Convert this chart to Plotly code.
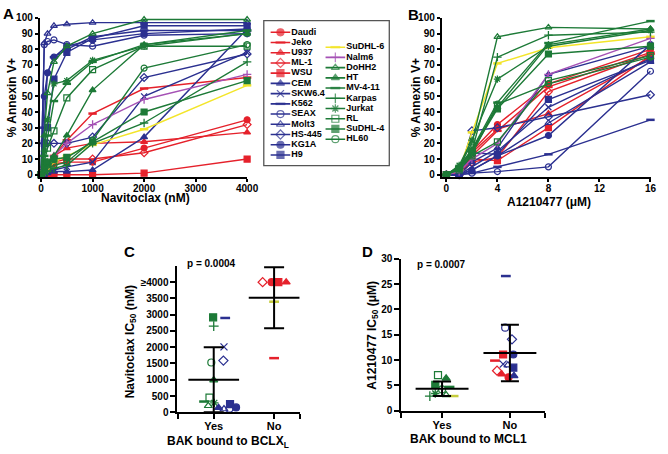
import plotly.graph_objects as go

# ---------------- data ----------------
cell_lines = ["Daudi", "Jeko", "U937", "ML-1", "WSU",
              "CEM", "SKW6.4", "K562", "SEAX", "Molt3", "HS-445", "KG1A", "H9",
              "SuDHL-6", "Nalm6", "DoHH2", "HT", "MV-4-11", "Karpas", "Jurkat",
              "RL", "SuDHL-4", "HL60"]

navitoclax_nM = [0, 62.5, 125, 250, 500, 1000, 2000, 4000]
annexin_navitoclax = {
    "Daudi":   [0, 2, 5, 7, 8, 8, 17, 35],
    "Jeko":    [0, 4, 8, 12, 22, 39, 55, 62],
    "U937":    [0, 6, 8, 12, 17, 20, 21, 27],
    "ML-1":    [0, 2, 4, 8, 10, 10, 14, 32],
    "WSU":     [0, 0, 0, 0, 0, 0, 1, 10],
    "CEM":     [0, 0, 1, 2, 2, 3, 24, 93],
    "SKW6.4":  [0, 1, 2, 3, 5, 8, 50, 78],
    "K562":    [0, 30, 65, 75, 80, 88, 92, 92],
    "SEAX":    [0, 83, 85, 86, 83, 82, 89, 90],
    "Molt3":   [0, 84, 90, 95, 96, 97, 97, 97],
    "HS-445":  [0, 20, 20, 20, 20, 24, 62, 77],
    "KG1A":    [0, 50, 65, 75, 82, 86, 90, 93],
    "H9":      [0, 20, 30, 61, 78, 87, 95, 95],
    "SuDHL-6": [0, 2, 4, 8, 12, 19, 29, 57],
    "Nalm6":   [0, 4, 7, 12, 20, 32, 48, 64],
    "DoHH2":   [0, 25, 52, 72, 82, 90, 99, 99],
    "HT":      [0, 3, 6, 12, 25, 54, 83, 90],
    "MV-4-11": [0, 12, 25, 47, 58, 72, 83, 92],
    "Karpas":  [0, 1, 2, 4, 6, 20, 33, 72],
    "Jurkat":  [0, 15, 35, 58, 60, 73, 82, 90],
    "RL":      [0, 8, 17, 28, 49, 67, 82, 82],
    "SuDHL-4": [0, 4, 8, 10, 11, 21, 40, 60],
    "HL60":    [0, 2, 4, 6, 8, 22, 68, 83],
}

a1210477_uM = [0, 1, 2, 4, 8, 16]
annexin_a1210477 = {
    "Daudi":   [0, 0, 15, 32, 58, 80],
    "Jeko":    [0, 1, 12, 28, 56, 78],
    "U937":    [0, 0, 14, 29, 39, 75],
    "ML-1":    [0, 0, 8, 11, 53, 77],
    "WSU":     [0, 0, 10, 9, 30, 76],
    "CEM":     [0, 0, 8, 17, 64, 82],
    "SKW6.4":  [0, 0, 5, 15, 43, 74],
    "K562":    [0, 0, 1, 5, 13, 35],
    "SEAX":    [0, 0, 1, 2, 5, 66],
    "Molt3":   [0, 0, 3, 12, 33, 72],
    "HS-445":  [0, 0, 28, 30, 37, 51],
    "KG1A":    [0, 0, 3, 12, 25, 83],
    "H9":      [0, 0, 14, 13, 48, 73],
    "SuDHL-6": [0, 3, 27, 71, 81, 88],
    "Nalm6":   [0, 2, 10, 20, 64, 87],
    "DoHH2":   [0, 5, 20, 88, 94, 93],
    "HT":      [0, 5, 16, 43, 83, 93],
    "MV-4-11": [0, 5, 16, 46, 84, 98],
    "Karpas":  [0, 4, 15, 75, 89, 91],
    "Jurkat":  [0, 6, 22, 61, 82, 92],
    "RL":      [0, 3, 12, 21, 60, 76],
    "SuDHL-4": [0, 4, 15, 42, 77, 82],
    "HL60":    [0, 4, 13, 45, 58, 75],
}

# Panel C: navitoclax IC50 (nM); group 0 = Yes, 1 = No
c_names  = ["SuDHL-4", "Karpas", "K562", "SKW6.4", "HL60", "HS-445", "HT", "RL",
            "MV-4-11", "Jurkat", "DoHH2", "CEM", "Molt3", "SEAX", "H9", "KG1A",
            "ML-1", "Daudi", "WSU", "U937", "SuDHL-6", "Jeko"]
c_ic50   = [2920, 2650, 2900, 2010, 1530, 1590, 990, 450,
            330, 290, 200, 140, 100, 110, 250, 150,
            4000, 4000, 4000, 4000, 3400, 1665]
c_group  = [0] * 16 + [1] * 6
c_jitter = [-0.01, 0.0, 0.19, 0.17, -0.04, 0.16, 0.0, -0.07,
            -0.16, 0.01, -0.09, 0.08, 0.17, 0.26, 0.27, 0.37,
            -0.19, -0.04, 0.07, 0.2, 0.0, 0.0]
c_mean = [1000, 3520]
c_sd   = [1000, 940]

# Panel D: A1210477 IC50 (uM)
d_names  = ["RL", "HT", "SuDHL-4", "MV-4-11", "HL60", "Karpas", "Jurkat", "DoHH2", "SuDHL-6",
            "K562", "SEAX", "HS-445", "WSU", "KG1A", "Jeko", "SKW6.4", "Molt3", "H9",
            "ML-1", "U937", "Daudi", "CEM"]
d_ic50   = [7.05, 6.4, 5.1, 4.7, 4.2, 2.9, 3.4, 3.1, 2.9,
            26.6, 16.4, 14.1, 11.1, 11.1, 9.9, 9.2, 9.0, 8.5,
            7.9, 7.2, 6.6, 6.9]
d_group  = [0] * 9 + [1] * 13
d_jitter = [-0.06, 0.06, -0.1, 0.11, 0.0, -0.18, -0.1, 0.06, 0.17,
            -0.06, -0.07, 0.03, -0.1, 0.05, -0.22, -0.1, -0.03, 0.05,
            -0.19, -0.12, -0.02, 0.06]
d_mean = [4.35, 11.4]
d_sd   = [1.42, 5.6]

# ---------------- styles ----------------
RED, BLUE, GREEN = "#e5212b", "#2b3090", "#1d7a37"
YELLOW, PURPLE = "#f3e52a", "#a551b5"
style = {
    "Daudi": (RED, "circle"), "Jeko": (RED, "line-ew"), "U937": (RED, "triangle-up"),
    "ML-1": (RED, "diamond-open"), "WSU": (RED, "square"),
    "CEM": (BLUE, "triangle-up"), "SKW6.4": (BLUE, "x-thin"), "K562": (BLUE, "line-ew"),
    "SEAX": (BLUE, "circle-open"), "Molt3": (BLUE, "triangle-up-open"),
    "HS-445": (BLUE, "diamond-open"), "KG1A": (BLUE, "circle"), "H9": (BLUE, "square"),
    "SuDHL-6": (YELLOW, "line-ew"), "Nalm6": (PURPLE, "cross-thin"),
    "DoHH2": (GREEN, "triangle-up-open"), "HT": (GREEN, "triangle-up"),
    "MV-4-11": (GREEN, "line-ew"), "Karpas": (GREEN, "cross-thin"),
    "Jurkat": (GREEN, "asterisk"), "RL": (GREEN, "square-open"),
    "SuDHL-4": (GREEN, "square"), "HL60": (GREEN, "circle-open"),
}
SCATTER_YELLOW = "#c5cc3c"

W, H = 668, 454
FONT = "Liberation Sans, Arial, Helvetica, sans-serif"


def px_x(p):
    return p / W


def px_y(p):
    return 1 - p / H


def marker(name, size, color=None):
    c, sym = style[name]
    c = color or c
    lw = 1.2
    if sym in ("line-ew",):
        lw = 2.5
    elif sym.endswith("thin") or sym == "asterisk":
        lw = 1.3
    return dict(symbol=sym, size=size, color=c, line=dict(color=c, width=lw))


fig = go.Figure()

# Panel A and B lines
for name in cell_lines:
    c, _ = style[name]
    fig.add_trace(go.Scatter(x=navitoclax_nM, y=annexin_navitoclax[name], mode="lines+markers",
                             line=dict(color=c, width=1.4), marker=marker(name, 6),
                             xaxis="x", yaxis="y", showlegend=False, cliponaxis=False))
for name in cell_lines:
    c, _ = style[name]
    fig.add_trace(go.Scatter(x=a1210477_uM, y=annexin_a1210477[name], mode="lines+markers",
                             line=dict(color=c, width=1.4), marker=marker(name, 6),
                             xaxis="x2", yaxis="y2", showlegend=False, cliponaxis=False))

# Compact legend drawn on its own axis covering the legend box (pixel units)
LEG_BOX = (268, 396, 15, 164)  # left, right, top, bottom in figure pixels
col_split = 13
leg_row0 = [27.0, 42.3]
leg_dy = 10.5
leg_x0 = [275, 331]
for i, name in enumerate(cell_lines):
    col = 0 if i < col_split else 1
    row = i if col == 0 else i - col_split
    yy = leg_row0[col] + row * leg_dy
    x0 = leg_x0[col]
    c, _ = style[name]
    mk = marker(name, 7)
    mk["size"] = [0, 7, 0]
    fig.add_trace(go.Scatter(x=[x0, x0 + 10, x0 + 20], y=[yy, yy, yy], mode="lines+markers",
                             line=dict(color=c, width=1.6), marker=mk,
                             xaxis="x5", yaxis="y5", showlegend=False, cliponaxis=False))
    fig.add_trace(go.Scatter(x=[x0 + 21], y=[yy], mode="text", text=[name],
                             textposition="middle right",
                             textfont=dict(family=FONT, size=9, color="black", weight="bold"),
                             xaxis="x5", yaxis="y5", showlegend=False, cliponaxis=False))


def scatter_panel(names, vals, groups, jit, means, sds, xa, ya, hw, capw, msize):
    for n, v, g, j in zip(names, vals, groups, jit):
        col = SCATTER_YELLOW if n == "SuDHL-6" else None
        fig.add_trace(go.Scatter(x=[g + j], y=[v], mode="markers", marker=marker(n, msize, col),
                                 xaxis=xa, yaxis=ya, showlegend=False, cliponaxis=False))
    for g, (m, s) in enumerate(zip(means, sds)):
        fig.add_trace(go.Scatter(x=[g - hw, g + hw], y=[m, m], mode="lines",
                                 line=dict(color="black", width=2),
                                 xaxis=xa, yaxis=ya, showlegend=False))
        fig.add_trace(go.Scatter(x=[g], y=[m], mode="markers", marker=dict(size=1, color="black"),
                                 error_y=dict(type="data", array=[s], color="black",
                                              thickness=2, width=capw),
                                 xaxis=xa, yaxis=ya, showlegend=False))


scatter_panel(c_names, c_ic50, c_group, c_jitter, c_mean, c_sd, "x3", "y3", 0.42, 10, 7)
scatter_panel(d_names, d_ic50, d_group, d_jitter, d_mean, d_sd, "x4", "y4", 0.39, 9, 7)

tickfont = dict(family=FONT, size=10, color="black", weight="bold")
ax = dict(showline=True, linecolor="black", linewidth=1.5, ticks="outside", ticklen=3,
          tickwidth=1.5, tickcolor="black", showgrid=False, zeroline=False,
          tickfont=tickfont, fixedrange=True)
ax2 = dict(ax, linewidth=2, tickwidth=2, ticklen=5)

yA = [px_y(175.7), px_y(12.3)]
fig.update_layout(
    width=W, height=H, margin=dict(l=0, r=0, t=0, b=0),
    paper_bgcolor="white", plot_bgcolor="rgba(0,0,0,0)",
    xaxis=dict(ax, domain=[px_x(39.3), px_x(251)], range=[-30, 4000],
               tickvals=[0, 1000, 2000, 3000, 4000], anchor="y"),
    yaxis=dict(ax, domain=yA, range=[-1.5, 100], tickvals=list(range(0, 101, 10)), anchor="x"),
    xaxis2=dict(ax, domain=[px_x(449.3), px_x(663)], range=[-0.38, 16.05],
                tickvals=[0, 4, 8, 12, 16], anchor="y2"),
    yaxis2=dict(ax, domain=yA, range=[-1.5, 100], tickvals=list(range(0, 101, 10)), anchor="x2"),
    xaxis3=dict(ax2, domain=[px_x(180), px_x(305)], range=[-0.6, 1.43],
                tickvals=[-0.599, 0, 1, 1.429], ticktext=["", "Yes", "No", ""], anchor="y3",
                tickfont=dict(tickfont, size=11)),
    yaxis3=dict(ax2, domain=[px_y(417.3), px_y(267)], range=[0, 4500],
                tickvals=[0, 500, 1000, 1500, 2000, 2500, 3000, 3500, 4000],
                ticktext=["0", "500", "1000", "1500", "2000", "2500", "3000", "3500", "≥4000"],
                anchor="x3"),
    xaxis4=dict(ax2, domain=[px_x(408.3), px_x(555)], range=[-0.6, 1.52],
                tickvals=[-0.599, 0, 1, 1.519], ticktext=["", "Yes", "No", ""], anchor="y4",
                tickfont=dict(tickfont, size=11)),
    yaxis4=dict(ax2, domain=[px_y(415.7), px_y(259.7)], range=[0, 30],
                tickvals=[0, 5, 10, 15, 20, 25, 30], anchor="x4"),
    xaxis5=dict(domain=[px_x(LEG_BOX[0]), px_x(LEG_BOX[1])], range=[LEG_BOX[0], LEG_BOX[1]],
                visible=False, fixedrange=True, anchor="y5"),
    yaxis5=dict(domain=[px_y(LEG_BOX[3]), px_y(LEG_BOX[2])], range=[LEG_BOX[3], LEG_BOX[2]],
                visible=False, fixedrange=True, anchor="x5"),
    showlegend=False,
)
try:
    fig.update_layout(xaxis=dict(ticklabelstandoff=-2), xaxis2=dict(ticklabelstandoff=-2),
                      xaxis3=dict(ticklabelstandoff=-2), xaxis4=dict(ticklabelstandoff=-2))
except Exception:
    pass

# legend box
fig.add_shape(type="rect", xref="paper", yref="paper",
              x0=px_x(LEG_BOX[0]), x1=px_x(LEG_BOX[1]), y0=px_y(LEG_BOX[3]), y1=px_y(LEG_BOX[2]),
              line=dict(color="#555555", width=1.3), fillcolor="rgba(0,0,0,0)", layer="below")


def ann(text, x, y, size=12, angle=0):
    fig.add_annotation(text=text, x=px_x(x), y=px_y(y), xref="paper", yref="paper",
                       showarrow=False, textangle=angle, xanchor="center", yanchor="middle",
                       font=dict(family=FONT, size=size, color="black", weight="bold"))


ann("A", 8, 8, 15)
ann("B", 421, 9, 15)
ann("C", 131, 252, 15)
ann("D", 374, 252, 15)
ann("% Annexin V+", 11, 94, 12, -90)
ann("Navitoclax (nM)", 147, 197, 12)
ann("% Annexin V+", 423, 94, 12, -90)
ann("A1210477 (μM)", 559, 201, 12)
ann("Navitoclax IC<sub>50</sub> (nM)", 132, 345, 12, -90)
ann("BAK bound to BCLX<sub>L</sub>", 232, 448, 12)
ann("A1210477 IC<sub>50</sub> (μM)", 379, 338, 12, -90)
ann("BAK bound to MCL1", 477, 445, 12)
ann("p = 0.0004", 215, 265, 10)
ann("p = 0.0007", 449, 266, 10)

fig.write_html("out.html", config={"displayModeBar": False},
               post_script="document.body.style.margin='0';document.body.style.overflow='hidden';")
